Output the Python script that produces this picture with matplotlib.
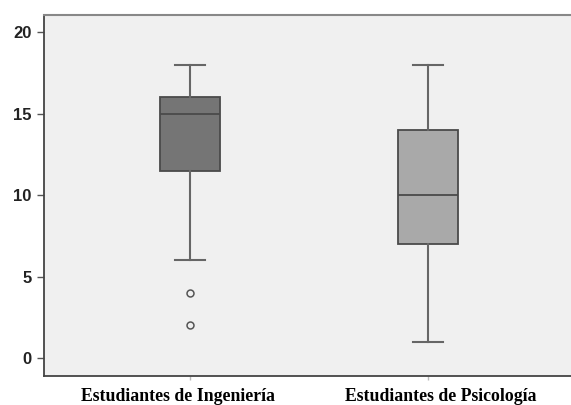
import matplotlib
matplotlib.use("Agg")
import matplotlib.pyplot as plt
from matplotlib.transforms import ScaledTranslation

# box plot summary
groups = ["Estudiantes de Ingeniería", "Estudiantes de Psicología"]
whislo = [6, 1]
q1 = [11.5, 7]
med = [15, 10]
q3 = [16, 14]
whishi = [18, 18]
fliers = [[4, 2], []]
fills = ["#757575", "#a9a9a9"]
yticks = [0, 5, 10, 15, 20]

stats = []
for i in range(len(groups)):
    stats.append({"label": groups[i], "whislo": whislo[i], "q1": q1[i],
                  "med": med[i], "q3": q3[i], "whishi": whishi[i],
                  "fliers": fliers[i]})

fig = plt.figure(figsize=(5.71, 4.05), dpi=100)
fig.patch.set_facecolor("white")
ax = fig.add_axes([44 / 571, 29 / 405, 527 / 571, 361 / 405])
ax.set_facecolor("#f0f0f0")

bp = ax.bxp(stats, positions=[1, 2], widths=0.252, patch_artist=True,
            boxprops=dict(edgecolor="#4a4a4a", linewidth=1.3),
            medianprops=dict(color="#4a4a4a", linewidth=1.3),
            whiskerprops=dict(color="#666666", linewidth=1.5),
            capprops=dict(color="#666666", linewidth=1.5),
            capwidths=0.126,
            flierprops=dict(marker="o", markersize=5, markerfacecolor="none",
                            markeredgecolor="#555555", markeredgewidth=1.1))
for patch, c in zip(bp["boxes"], fills):
    patch.set_facecolor(c)

ax.set_xlim(0.3866, 2.601)
ax.set_ylim(-1.1, 21.05)
ax.set_yticks(yticks)
ax.set_yticklabels([str(t) for t in yticks], fontsize=12, fontweight="bold",
                   family="Liberation Sans", color="#222222")
ax.set_xticks([1, 2])
ax.set_xticklabels(groups, fontsize=12.8, fontweight="bold",
                   family="Liberation Serif", color="black")
ax.tick_params(axis="y", length=5, width=1, color="#555555", pad=4)
ax.tick_params(axis="x", length=3, width=1, color="#bbbbbb", pad=5.5)

# labels in the original sit a little off their ticks
for lbl, dx in zip(ax.get_xticklabels(), [-12, 13]):
    lbl.set_transform(lbl.get_transform() + ScaledTranslation(dx / 100, 0, fig.dpi_scale_trans))

for side in ["left", "bottom"]:
    ax.spines[side].set_color("#444444")
    ax.spines[side].set_linewidth(1.3)
ax.spines["top"].set_color("#888888")
ax.spines["top"].set_linewidth(1.5)
ax.spines["right"].set_visible(False)

fig.savefig("out.png", dpi=100)
